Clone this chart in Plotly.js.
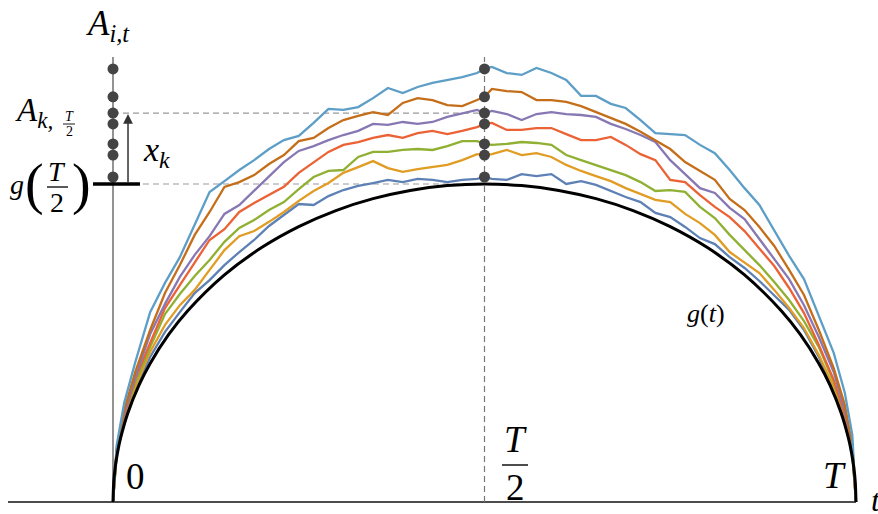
<!DOCTYPE html>
<html>
<head>
<meta charset="utf-8">
<script src="https://cdn.plot.ly/plotly-3.0.1.min.js"></script>
<style>html,body{margin:0;padding:0;background:#fff;}#chart{width:878px;height:514px;}</style>
</head>
<body>
<div id="chart"></div>
<script>
// time grid (T = 1)
const tGrid = [0, 0.005, 0.015, 0.03, 0.05, 0.07, 0.09, 0.11, 0.13, 0.15, 0.17, 0.19, 0.21, 0.23, 0.25, 0.27, 0.29, 0.31, 0.33, 0.35, 0.37, 0.39, 0.41, 0.43, 0.45, 0.47, 0.49, 0.5, 0.51, 0.53, 0.55, 0.57, 0.59, 0.61, 0.63, 0.65, 0.67, 0.69, 0.71, 0.73, 0.75, 0.77, 0.79, 0.81, 0.83, 0.85, 0.87, 0.89, 0.91, 0.93, 0.95, 0.97, 0.985, 0.995, 1];

// paths A_{i,t} (units: g(T/2) = 1)
const pathDarkBlue = [0, 0.151, 0.252, 0.352, 0.456, 0.535, 0.597, 0.657, 0.698, 0.745, 0.786, 0.824, 0.868, 0.903, 0.937, 0.934, 0.962, 0.981, 0.994, 1.003, 1.013, 1.006, 1.016, 1.013, 1.006, 1.013, 1.016, 1.022, 1.016, 1.013, 1.031, 1.025, 1.031, 1.000, 1.009, 0.997, 0.978, 0.959, 0.943, 0.909, 0.896, 0.865, 0.830, 0.811, 0.770, 0.736, 0.695, 0.651, 0.604, 0.541, 0.456, 0.352, 0.255, 0.151, 0];
const pathOrange = [0, 0.154, 0.258, 0.362, 0.472, 0.557, 0.619, 0.667, 0.730, 0.792, 0.836, 0.852, 0.881, 0.912, 0.947, 0.978, 1.003, 1.035, 1.053, 1.072, 1.050, 1.038, 1.047, 1.053, 1.060, 1.075, 1.094, 1.091, 1.094, 1.107, 1.091, 1.097, 1.085, 1.060, 1.041, 1.025, 1.009, 0.987, 0.969, 0.950, 0.943, 0.906, 0.877, 0.840, 0.786, 0.752, 0.720, 0.667, 0.610, 0.547, 0.462, 0.362, 0.261, 0.154, 0];
const pathGreen = [0, 0.157, 0.264, 0.374, 0.487, 0.591, 0.654, 0.711, 0.761, 0.818, 0.862, 0.887, 0.918, 0.943, 0.984, 1.022, 1.041, 1.044, 1.085, 1.101, 1.101, 1.107, 1.110, 1.107, 1.119, 1.135, 1.135, 1.126, 1.123, 1.126, 1.132, 1.129, 1.123, 1.091, 1.075, 1.060, 1.044, 1.028, 1.006, 0.978, 0.981, 0.975, 0.928, 0.893, 0.840, 0.792, 0.745, 0.692, 0.635, 0.569, 0.487, 0.377, 0.264, 0.157, 0];
const pathRed = [0, 0.160, 0.270, 0.387, 0.500, 0.610, 0.682, 0.752, 0.824, 0.858, 0.912, 0.940, 0.965, 0.991, 1.035, 1.069, 1.101, 1.123, 1.132, 1.145, 1.154, 1.145, 1.160, 1.167, 1.157, 1.167, 1.179, 1.189, 1.192, 1.170, 1.170, 1.176, 1.176, 1.157, 1.138, 1.138, 1.148, 1.123, 1.094, 1.075, 1.013, 1.006, 0.965, 0.928, 0.896, 0.852, 0.796, 0.742, 0.673, 0.594, 0.494, 0.384, 0.274, 0.164, 0];
const pathPurple = [0, 0.164, 0.277, 0.393, 0.528, 0.623, 0.708, 0.777, 0.836, 0.906, 0.934, 0.978, 1.025, 1.069, 1.104, 1.119, 1.138, 1.154, 1.167, 1.189, 1.186, 1.195, 1.189, 1.195, 1.211, 1.223, 1.233, 1.223, 1.230, 1.220, 1.201, 1.220, 1.226, 1.220, 1.217, 1.211, 1.189, 1.173, 1.154, 1.132, 1.075, 1.031, 0.987, 0.972, 0.925, 0.890, 0.827, 0.767, 0.701, 0.619, 0.519, 0.409, 0.289, 0.170, 0];
const pathBrown = [0, 0.170, 0.289, 0.409, 0.541, 0.657, 0.745, 0.840, 0.912, 0.991, 1.006, 1.028, 1.063, 1.091, 1.135, 1.145, 1.176, 1.201, 1.214, 1.226, 1.217, 1.255, 1.270, 1.264, 1.248, 1.245, 1.264, 1.274, 1.299, 1.292, 1.289, 1.264, 1.264, 1.258, 1.245, 1.226, 1.208, 1.189, 1.164, 1.138, 1.110, 1.069, 1.041, 1.013, 0.953, 0.918, 0.865, 0.805, 0.730, 0.651, 0.541, 0.421, 0.305, 0.179, 0];
const pathLightBlue = [0, 0.179, 0.311, 0.440, 0.597, 0.689, 0.770, 0.871, 0.975, 1.009, 1.044, 1.075, 1.110, 1.138, 1.151, 1.192, 1.236, 1.233, 1.242, 1.270, 1.302, 1.286, 1.305, 1.318, 1.327, 1.336, 1.349, 1.362, 1.368, 1.349, 1.343, 1.365, 1.349, 1.327, 1.277, 1.277, 1.252, 1.239, 1.201, 1.160, 1.157, 1.154, 1.123, 1.097, 1.044, 0.987, 0.934, 0.855, 0.774, 0.701, 0.588, 0.469, 0.343, 0.211, 0];

// boundary g(t)
const gT = [0, 0.001, 0.003, 0.006, 0.01, 0.02, 0.035, 0.05, 0.075, 0.1, 0.15, 0.2, 0.25, 0.3, 0.35, 0.4, 0.45, 0.5, 0.55, 0.6, 0.65, 0.7, 0.75, 0.8, 0.85, 0.9, 0.925, 0.95, 0.965, 0.98, 0.99, 0.994, 0.997, 0.999, 1];
const gVal = [0, 0.0632, 0.1094, 0.1545, 0.199, 0.28, 0.3676, 0.4359, 0.5268, 0.6, 0.7141, 0.8, 0.866, 0.9165, 0.9539, 0.9798, 0.995, 1.0, 0.995, 0.9798, 0.9539, 0.9165, 0.866, 0.8, 0.7141, 0.6, 0.5268, 0.4359, 0.3676, 0.28, 0.199, 0.1545, 0.1094, 0.0632, 0];

const pathColors = ['#5E81B5', '#E19C24', '#8FB032', '#EB6235', '#8778B3', '#C56E1A', '#5D9EC7'];
const paths = [pathDarkBlue, pathOrange, pathGreen, pathRed, pathPurple, pathBrown, pathLightBlue];

const W = 878, H = 514;
const FONT = 'Liberation Serif';
const iHalf = tGrid.indexOf(0.5);
const dotVals = paths.map(p => p[iHalf]);
const gHalf = gVal[gT.indexOf(0.5)];
const aK = pathPurple[iHalf];
const axisTop = 1.399;

const traces = [];
paths.forEach((p, i) => {
  traces.push({x: tGrid, y: p, mode: 'lines', line: {color: pathColors[i], width: 2.3}, hoverinfo: 'skip'});
});
traces.push({x: gT, y: gVal, mode: 'lines', line: {color: '#000', width: 3, shape: 'spline', smoothing: 0.8}, hoverinfo: 'skip'});
traces.push({x: dotVals.map(() => 0), y: dotVals, mode: 'markers', marker: {color: '#444', size: 11}, hoverinfo: 'skip'});
traces.push({x: dotVals.map(() => 0.5), y: dotVals, mode: 'markers', marker: {color: '#444', size: 11}, hoverinfo: 'skip'});

function pxX(x) { return x / W; }
function pxY(y) { return 1 - y / H; }
function label(text, x, y, size, opts) {
  return Object.assign({text: text, x: pxX(x), y: pxY(y), xref: 'paper', yref: 'paper', showarrow: false,
    xanchor: 'center', yanchor: 'middle', font: {family: FONT, size: size, color: '#000'}}, opts || {});
}
function bar(x0, x1, y, w) {
  return {type: 'line', xref: 'paper', yref: 'paper', x0: pxX(x0), x1: pxX(x1), y0: pxY(y), y1: pxY(y), line: {color: '#000', width: w || 1.3}};
}

const shapes = [
  {type: 'line', xref: 'x', yref: 'y', x0: -0.1413, x1: 1, y0: 0, y1: 0, line: {color: '#111', width: 1.4}, layer: 'below'},
  {type: 'line', xref: 'x', yref: 'y', x0: 0, x1: 0, y0: 0, y1: axisTop, line: {color: '#666', width: 1.4}, layer: 'below'},
  {type: 'line', xref: 'x', yref: 'y', x0: 0.5, x1: 0.5, y0: 0, y1: axisTop, line: {color: '#777', width: 1.2, dash: '6px,4px'}, layer: 'below'},
  {type: 'line', xref: 'x', yref: 'y', x0: 0, x1: 0.5, y0: aK, y1: aK, line: {color: '#999', width: 1.1, dash: '6px,4px'}, layer: 'below'},
  {type: 'line', xref: 'x', yref: 'y', x0: 0, x1: 0.5, y0: gHalf, y1: gHalf, line: {color: '#999', width: 1.1, dash: '6px,4px'}, layer: 'below'},
  {type: 'line', xref: 'x', yref: 'y', x0: -0.0269, x1: 0.0363, y0: gHalf, y1: gHalf, line: {color: '#000', width: 3.5}},
  bar(502, 528, 465, 1.4),
  bar(47, 68, 187, 1.3),
  bar(63, 75, 124, 0.9)
];

const annotations = [
  label('<i>A</i><sub><i>i,t</i></sub>', 84, 25, 35, {xanchor: 'left'}),
  label('<i>A</i><sub><i>k,</i></sub>', 13, 112, 33, {xanchor: 'left'}),
  label('<i>T</i>', 69, 117, 14),
  label('2', 69, 131, 14),
  label('<i>g</i>', 17, 184, 28),
  label('(', 34, 184, 56),
  label('<i>T</i>', 57, 172, 28),
  label('2', 57, 203, 28),
  label(')', 81, 184, 56),
  label('<i>x</i><sub><i>k</i></sub>', 141, 152, 34, {xanchor: 'left'}),
  label('0', 135, 476, 37),
  label('<i>T</i>', 515, 439, 37),
  label('2', 515, 487, 37),
  label('<i>T</i>', 834, 475, 37),
  label('<i>t</i>', 869, 500, 32, {xanchor: 'left'}),
  label('<i>g</i>(<i>t</i>)', 706, 313, 26),
  {x: 0.0202, y: 1.22, ax: 0.0202, ay: gHalf, xref: 'x', yref: 'y', axref: 'x', ayref: 'y', text: '', showarrow: true,
   arrowhead: 2, arrowsize: 1.3, arrowwidth: 1.5, arrowcolor: '#333', standoff: 0, startstandoff: 0}
];

const layout = {
  width: W, height: H,
  margin: {l: 0, r: 0, t: 0, b: 0},
  paper_bgcolor: '#fff', plot_bgcolor: '#fff',
  font: {family: FONT, color: '#000'},
  showlegend: false,
  xaxis: {range: [-113 / 743, 765 / 743], visible: false, fixedrange: true},
  yaxis: {range: [-12 / 318, 502 / 318], visible: false, fixedrange: true},
  shapes: shapes,
  annotations: annotations
};

Plotly.newPlot('chart', traces, layout, {displayModeBar: false});
</script>
</body>
</html>
